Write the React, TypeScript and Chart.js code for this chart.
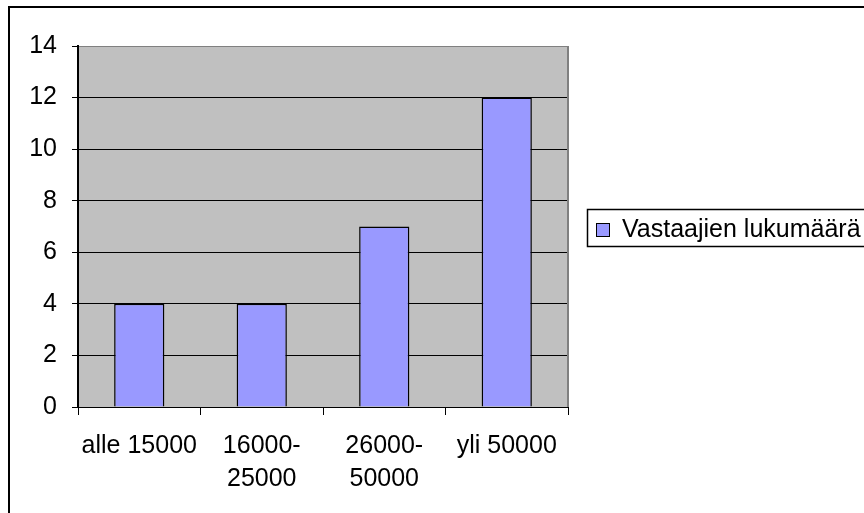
import React, { useEffect, useRef } from 'react';
import { Chart, registerables } from 'chart.js';

Chart.register(...registerables);

const categories: string[][] = [['alle 15000'], ['16000-', '25000'], ['26000-', '50000'], ['yli 50000']];
const seriesLabel = 'Vastaajien lukumäärä';
const values = [4, 4, 7, 12];
const yMin = 0;
const yMax = 14;
const yStep = 2;

const FONT = "'Liberation Sans', Arial, sans-serif";
const BAR_COLOR = '#9999FF';

const framePlugin = {
  id: 'framePlugin',
  beforeDraw(chart: any) {
    const { ctx, chartArea } = chart;
    ctx.save();
    ctx.fillStyle = '#C0C0C0';
    ctx.fillRect(chartArea.left, chartArea.top, chartArea.right - chartArea.left, chartArea.bottom - chartArea.top);
    ctx.restore();
  },
  beforeDatasetsDraw(chart: any) {
    const { ctx, chartArea } = chart;
    ctx.save();
    ctx.strokeStyle = '#808080';
    ctx.lineWidth = 2;
    ctx.beginPath();
    ctx.moveTo(chartArea.right, chartArea.top);
    ctx.lineTo(chartArea.right, chartArea.bottom);
    ctx.stroke();
    ctx.restore();
  },
  afterDraw(chart: any) {
    const { ctx } = chart;
    const ds = chart.data.datasets[0];
    ctx.save();
    ctx.strokeStyle = '#000';
    ctx.lineWidth = 1.5;
    ctx.strokeRect(587.5, 209.5, 400, 37);
    ctx.fillStyle = ds.backgroundColor;
    ctx.fillRect(596, 223, 14, 14);
    ctx.lineWidth = 1;
    ctx.strokeRect(596.5, 223.5, 13, 13);
    ctx.fillStyle = '#000';
    ctx.font = `25px ${FONT}`;
    ctx.textBaseline = 'middle';
    ctx.textAlign = 'left';
    ctx.fillText(ds.label, 622, 230);
    ctx.restore();
  },
};

export default function App() {
  const ref = useRef<HTMLCanvasElement | null>(null);

  useEffect(() => {
    if (!ref.current) return;
    const chart = new Chart(ref.current, {
      type: 'bar',
      data: {
        labels: categories,
        datasets: [
          {
            label: seriesLabel,
            data: values,
            backgroundColor: BAR_COLOR,
            borderColor: '#000',
            borderWidth: 1.5,
            barPercentage: 0.41,
            categoryPercentage: 1,
          },
        ],
      },
      options: {
        responsive: false,
        animation: false,
        devicePixelRatio: 1,
        layout: { padding: { top: 46, right: 296, left: 0, bottom: 0 } },
        plugins: {
          legend: { display: false },
          tooltip: { enabled: false },
        },
        scales: {
          x: {
            afterFit: (scale: any) => {
              scale.height = 106;
            },
            grid: {
              display: true,
              drawOnChartArea: false,
              drawTicks: true,
              tickLength: 8,
              offset: true,
              color: '#000',
            },
            border: { display: true, color: '#000', width: 1 },
            ticks: {
              color: '#000',
              padding: 15,
              maxRotation: 0,
              autoSkip: false,
              font: { family: FONT, size: 25, lineHeight: 1.32 },
            },
          },
          y: {
            min: yMin,
            max: yMax,
            afterFit: (scale: any) => {
              scale.width = 78;
            },
            grid: {
              color: (c: any) => (c.tick && c.tick.value === yMax ? '#808080' : '#000'),
              tickColor: '#000',
              tickLength: 6,
              lineWidth: 1,
            },
            border: { display: true, color: '#000', width: 2 },
            ticks: {
              stepSize: yStep,
              color: '#000',
              padding: 15,
              font: { family: FONT, size: 25 },
            },
          },
        },
      },
      plugins: [framePlugin],
    });
    return () => chart.destroy();
  }, []);

  return (
    <div style={{ position: 'fixed', left: 0, top: 0, width: 864, height: 513, overflow: 'hidden', background: '#fff' }}>
      <div
        style={{
          position: 'absolute',
          left: 8,
          top: 6,
          width: 1000,
          height: 1000,
          border: '2px solid #000',
          boxSizing: 'border-box',
        }}
      />
      <canvas ref={ref} width={864} height={513} style={{ position: 'absolute', left: 0, top: 0, width: 864, height: 513 }} />
    </div>
  );
}
